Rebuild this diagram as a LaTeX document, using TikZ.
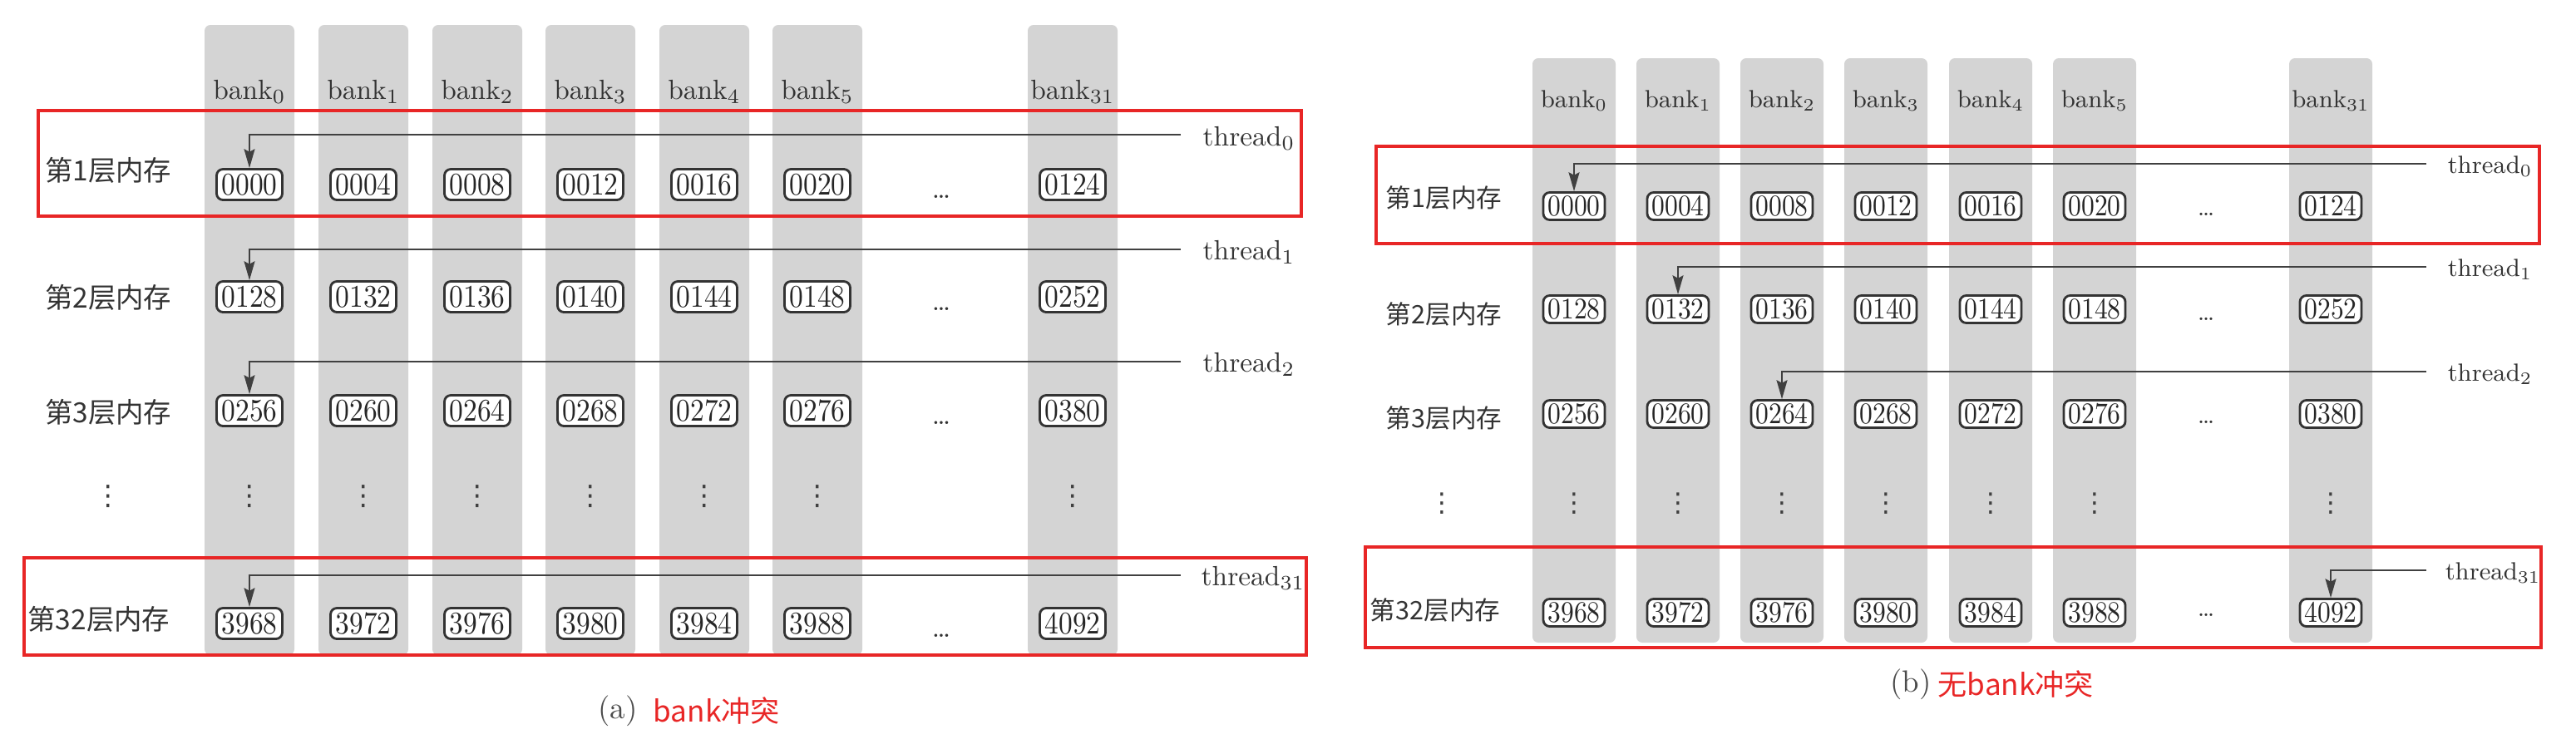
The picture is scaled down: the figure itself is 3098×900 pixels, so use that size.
\documentclass[tikz,border=0pt]{standalone}
\usepackage{fontspec}
\newfontfamily\cjk{Noto Sans CJK SC}
\newfontfamily\djv{DejaVu Sans}
\usetikzlibrary{arrows.meta}
\definecolor{redbox}{RGB}{232,38,38}
\definecolor{colgray}{RGB}{212,212,212}
\newcommand{\nsq}[1]{\scalebox{0.88}[1]{#1}}
\begin{document}
\begin{tikzpicture}[x=0.01cm,y=-0.01cm,
  column/.style={fill=colgray, rounded corners=2pt},
  cellA/.style={draw=black!80, fill=white, line width=0.8pt, rounded corners=2.2pt, inner sep=0pt,
    minimum width=0.79cm, minimum height=0.37cm, font=\fontsize{10.8}{12}\selectfont, text=black!85},
  cellB/.style={cellA, minimum width=0.74cm, minimum height=0.33cm, font=\fontsize{10.2}{11}\selectfont},
  labA/.style={font=\fontsize{9.5}{11}\selectfont, text=black!80, inner sep=0pt},
  labB/.style={font=\fontsize{8.5}{10}\selectfont, text=black!80, inner sep=0pt},
  vdotA/.style={font=\djv\fontsize{9.5}{11}\selectfont, text=black!75, inner sep=0pt},
  vdotB/.style={font=\djv\fontsize{9}{11}\selectfont, text=black!75, inner sep=0pt},
  rowA/.style={font=\cjk\fontsize{9.5}{11}\selectfont, text=black!80, inner sep=0pt, anchor=east},
  rowB/.style={font=\cjk\fontsize{8.7}{10}\selectfont, text=black!80, inner sep=0pt, anchor=east},
  arr/.style={draw=black!75, line width=0.55pt, -{Stealth[length=6.5pt,width=3.7pt,inset=1pt]}},
  hl/.style={draw=redbox, line width=1pt},
  captxt/.style={font=\fontsize{10.5}{12}\selectfont, text=black!70, inner sep=0pt},
  capred/.style={font=\cjk\fontsize{10}{12}\selectfont, text=redbox, inner sep=0pt, anchor=west},
]
\useasboundingbox (0,0) rectangle (3098,900);

% ---------------- panel (a) ----------------
\foreach \xx/\bk/\valA/\valB/\valC/\valD in {
  300/0/0000/0128/0256/3968, 437/1/0004/0132/0260/3972, 574/2/0008/0136/0264/3976,
  710/3/0012/0140/0268/3980, 847/4/0016/0144/0272/3984, 983/5/0020/0148/0276/3988,
  1290/31/0124/0252/0380/4092} {
  \fill[column] (\xx-54,30) rectangle (\xx+54,788);
  \node[labA] (abk\bk) at (\xx,110) {bank$_{\bk}$};
  \node[cellA] (a1-\bk) at (\xx,222) {\nsq{\valA}};
  \node[cellA] (a2-\bk) at (\xx,357) {\nsq{\valB}};
  \node[cellA] (a3-\bk) at (\xx,494) {\nsq{\valC}};
  \node[vdotA] (ad-\bk) at (\xx,597) {⋮};
  \node[cellA] (a32-\bk) at (\xx,750) {\nsq{\valD}};
}
\node[labA] (ah1) at (1132,237) {\dots};
\node[labA] (ah2) at (1132,372) {\dots};
\node[labA] (ah3) at (1132,509) {\dots};
\node[labA] (ah32) at (1132,765) {\dots};

\node[rowA] (aL1) at (207,205) {第1层内存};
\node[rowA] (aL2) at (207,358) {第2层内存};
\node[rowA] (aL3) at (207,496) {第3层内存};
\node[vdotA] (aLd) at (130,597) {⋮};
\node[rowA] (aL32) at (205,745) {第32层内存};

\coordinate (as0) at (1420,162);
\coordinate (as1) at (1420,300);
\coordinate (as2) at (1420,435);
\coordinate (as31) at (1420,692);
\node[labA, anchor=west] (at0) at (1446,166) {thread$_{0}$};
\node[labA, anchor=west] (at1) at (1446,303) {thread$_{1}$};
\node[labA, anchor=west] (at2) at (1446,438) {thread$_{2}$};
\node[labA, anchor=west] (at31) at (1444,695) {thread$_{31}$};
\draw[arr] (as0) -| (a1-0.north);
\draw[arr] (as1) -| (a2-0.north);
\draw[arr] (as2) -| (a3-0.north);
\draw[arr] (as31) -| (a32-0.north);

\draw[hl] (46,133) rectangle (1565,260);
\draw[hl] (29,671) rectangle (1571,788);

\node[captxt] (capa) at (743,855) {(a)};
\node[capred] (capat) at (785,855) {bank冲突};

% ---------------- panel (b) ----------------
\foreach \xx/\bk/\valA/\valB/\valC/\valD in {
  1893/0/0000/0128/0256/3968, 2018/1/0004/0132/0260/3972, 2143/2/0008/0136/0264/3976,
  2268/3/0012/0140/0268/3980, 2394/4/0016/0144/0272/3984, 2519/5/0020/0148/0276/3988,
  2803/31/0124/0252/0380/4092} {
  \fill[column] (\xx-50,70) rectangle (\xx+50,773);
  \node[labB] (bbk\bk) at (\xx,121) {bank$_{\bk}$};
  \node[cellB] (b1-\bk) at (\xx,248) {\nsq{\valA}};
  \node[cellB] (b2-\bk) at (\xx,372) {\nsq{\valB}};
  \node[cellB] (b3-\bk) at (\xx,498) {\nsq{\valC}};
  \node[vdotB] (bd-\bk) at (\xx,606) {⋮};
  \node[cellB] (b32-\bk) at (\xx,737) {\nsq{\valD}};
}
\node[labB] (bh1) at (2653,258) {\dots};
\node[labB] (bh2) at (2653,384) {\dots};
\node[labB] (bh3) at (2653,508) {\dots};
\node[labB] (bh32) at (2653,740) {\dots};

\node[rowB] (bL1) at (1807,238) {第1层内存};
\node[rowB] (bL2) at (1807,378) {第2层内存};
\node[rowB] (bL3) at (1807,503) {第3层内存};
\node[vdotB] (bLd) at (1734,606) {⋮};
\node[rowB] (bL32) at (1805,734) {第32层内存};

\coordinate (bs0) at (2918,197);
\coordinate (bs1) at (2918,321);
\coordinate (bs2) at (2918,447);
\coordinate (bs31) at (2918,686);
\node[labB, anchor=west] (bt0) at (2943,200) {thread$_{0}$};
\node[labB, anchor=west] (bt1) at (2943,324) {thread$_{1}$};
\node[labB, anchor=west] (bt2) at (2943,450) {thread$_{2}$};
\node[labB, anchor=west] (bt31) at (2940,689) {thread$_{31}$};
\draw[arr] (bs0) -| (b1-0.north);
\draw[arr] (bs1) -| (b2-1.north);
\draw[arr] (bs2) -| (b3-2.north);
\draw[arr] (bs31) -| (b32-31.north);

\draw[hl] (1655,176) rectangle (3054,293);
\draw[hl] (1642,658) rectangle (3056,779);

\node[captxt] (capb) at (2298,823) {(b)};
\node[capred] (capbt) at (2330,823) {无bank冲突};
\end{tikzpicture}
\end{document}
